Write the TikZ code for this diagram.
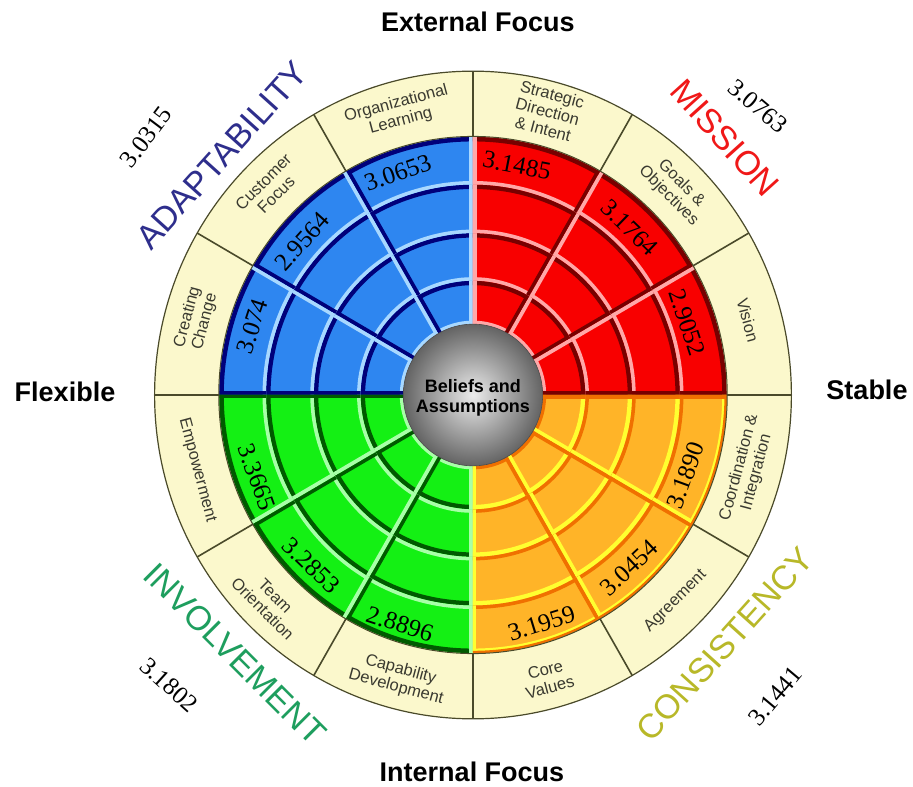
\documentclass[tikz,border=0pt]{standalone}
\usepackage{fontspec}
\setmainfont{Liberation Serif}
\setsansfont{Liberation Sans}
\newfontfamily\lsans{Liberation Sans}
\definecolor{cream}{HTML}{FBF8CC}
\definecolor{ringline}{HTML}{4A4A2A}
\definecolor{bmain}{HTML}{2E86F0}
\definecolor{bdark}{HTML}{00007A}
\definecolor{blight}{HTML}{A8D8FF}
\definecolor{rmain}{HTML}{F80000}
\definecolor{rdark}{HTML}{780000}
\definecolor{rlight}{HTML}{FFA8A8}
\definecolor{gmain}{HTML}{14F014}
\definecolor{gdark}{HTML}{005A00}
\definecolor{glight}{HTML}{A8FFA8}
\definecolor{omain}{HTML}{FFB428}
\definecolor{odark}{HTML}{F07000}
\definecolor{olight}{HTML}{FFFF30}
\definecolor{adaptc}{HTML}{2E2E8C}
\definecolor{missc}{HTML}{F01818}
\definecolor{involc}{HTML}{1E9E5E}
\definecolor{consc}{HTML}{B8B828}
\definecolor{labelc}{HTML}{3A3A30}
% #1 start angle, #2 end angle, #3 inner r, #4 outer r, #5 fill,
% #6 outer-edge colour, #7 inner-edge colour, #8 start-side colour, #9 end-side colour
\newcommand\bevelcell[9]{%
  \begin{scope}
    \clip (#1:#3) -- (#1:#4) arc[start angle=#1, end angle=#2, radius=#4]
          -- (#2:#3) arc[start angle=#2, end angle=#1, radius=#3] -- cycle;
    \fill[#5] (0,0) circle (#4);
    \draw[#6, line width=9] (0,0) circle (#4);
    \draw[#7, line width=7] (0,0) circle (#3);
    \draw[#8, line width=7] (0,0) -- (#1:330);
    \draw[#9, line width=8] (0,0) -- (#2:330);
  \end{scope}}
\begin{document}
\begin{tikzpicture}[x=1pt,y=1pt,
  seglabel/.style={font=\lsans\fontsize{16.5}{18}\selectfont, text=labelc, align=center, inner sep=0pt},
  valtext/.style={font=\fontsize{25}{25}\selectfont, text=black, inner sep=0pt},
  cornerval/.style={font=\fontsize{25}{25}\selectfont, text=black, inner sep=0pt},
  bigtitle/.style={font=\lsans\fontsize{34}{34}\selectfont, inner sep=0pt},
  axistext/.style={font=\lsans\bfseries\fontsize{27}{27}\selectfont, inner sep=0pt},
  centretext/.style={font=\lsans\bfseries\fontsize{18}{20}\selectfont, align=center, inner sep=0pt}
]
\useasboundingbox[fill=white] (-473,-392) rectangle (440,395);

\begin{scope}[xscale=0.995, yscale=1.012]
% outer cream ring
\fill[cream] (0,0) circle (320);
\draw[ringline, line width=1.2] (0,0) circle (320);
\foreach \a in {0,30,...,330} \draw[ringline, line width=1.6] (\a:255) -- (\a:320);

% quadrants
\foreach \r/\R in {70/113,113/160,160/208,208/255} {
  \foreach \s in {90,120,150} {
    \pgfmathtruncatemacro\e{\s+30}
    \bevelcell{\s}{\e}{\r}{\R}{bmain}{bdark}{blight}{blight}{bdark}
  }
  \foreach \s in {0,30,60} {
    \pgfmathtruncatemacro\e{\s+30}
    \bevelcell{\s}{\e}{\r}{\R}{rmain}{rdark}{rlight}{rdark}{rlight}
  }
  \foreach \s in {180,210,240} {
    \pgfmathtruncatemacro\e{\s+30}
    \bevelcell{\s}{\e}{\r}{\R}{gmain}{gdark}{glight}{gdark}{glight}
  }
  \foreach \s in {270,300,330} {
    \pgfmathtruncatemacro\e{\s+30}
    \bevelcell{\s}{\e}{\r}{\R}{omain}{olight}{odark}{olight}{odark}
  }
}
\draw[odark, line width=2.5] (270:254) arc[start angle=270, end angle=360, radius=254];
\draw[ringline, line width=1] (0,0) circle (255.5);

% centre ball
\shade[inner color=gray!15, outer color=gray!78!black] (0,0) circle (70);
\draw[gray!60!black, line width=0.6] (0,0) circle (70);
\node[centretext] (core) at (0,-3) {Beliefs and\\Assumptions};

% segment labels
\node[seglabel, rotate=15]  (s1)  at (105:289) {Organizational\\Learning};
\node[seglabel, rotate=45]  (s2)  at (135:289) {Customer\\Focus};
\node[seglabel, rotate=75]  (s3)  at (165:288) {Creating\\Change};
\node[seglabel, rotate=-75] (s4)  at (195:287) {Empowerment};
\node[seglabel, rotate=-45] (s5)  at (225:290) {Team\\Orientation};
\node[seglabel, rotate=-15] (s6)  at (255:290) {Capability\\Development};
\node[seglabel, rotate=15]  (s7)  at (285:290) {Core\\Values};
\node[seglabel, rotate=45]  (s8)  at (315:288) {Agreement};
\node[seglabel, rotate=75]  (s9)  at (345:286) {Coordination \&\\Integration};
\node[seglabel, rotate=-75] (s10) at (15:286)  {Vision};
\node[seglabel, rotate=-45] (s11) at (45:287)  {Goals \&\\Objectives};
\node[seglabel, rotate=-15] (s12) at (75:290)  {Strategic\\Direction\\\& Intent};

% values
\node[valtext, rotate=19]  (v1)  at (109:232) {3.0653};
\node[valtext, rotate=48]  (v2)  at (138.6:229) {2.9564};
\node[valtext, rotate=72]  (v3)  at (163:232) {3.074};
\node[valtext, rotate=-70] (v4)  at (200.5:232) {3.3665};
\node[valtext, rotate=-44] (v5)  at (226:234) {3.2853};
\node[valtext, rotate=-18] (v6)  at (252:238) {2.8896};
\node[valtext, rotate=17]  (v7)  at (287:236) {3.1959};
\node[valtext, rotate=43]  (v8)  at (312.6:232) {3.0454};
\node[valtext, rotate=70]  (v9)  at (339.6:228) {3.1890};
\node[valtext, rotate=-72] (v10) at (18.4:227) {2.9052};
\node[valtext, rotate=-44] (v11) at (46.4:228) {3.1764};
\node[valtext, rotate=-11] (v12) at (79:231) {3.1485};
\end{scope}

% dimension titles
\node[bigtitle, text=adaptc, rotate=48]  (tA) at (-251,240) {ADAPTABILITY};
\node[bigtitle, text=missc, rotate=-48]  (tM) at (252,257) {MISSION};
\node[bigtitle, text=involc, rotate=-45] (tI) at (-238,-259) {INVOLVEMENT};
\node[bigtitle, text=consc, rotate=48]   (tC) at (252,-249) {CONSISTENCY};

% dimension scores
\node[cornerval, rotate=53]  (nA) at (-327,258) {3.0315};
\node[cornerval, rotate=-40] (nM) at (285,289) {3.0763};
\node[cornerval, rotate=-42] (nI) at (-304,-290) {3.1802};
\node[cornerval, rotate=50]  (nC) at (302,-301) {3.1441};

% axes
\node[axistext] (ext) at (5,373) {External Focus};
\node[axistext] (int) at (-1,-377) {Internal Focus};
\node[axistext] (flx) at (-408,3) {Flexible};
\node[axistext] (stb) at (394,5) {Stable};
\end{tikzpicture}
\end{document}
